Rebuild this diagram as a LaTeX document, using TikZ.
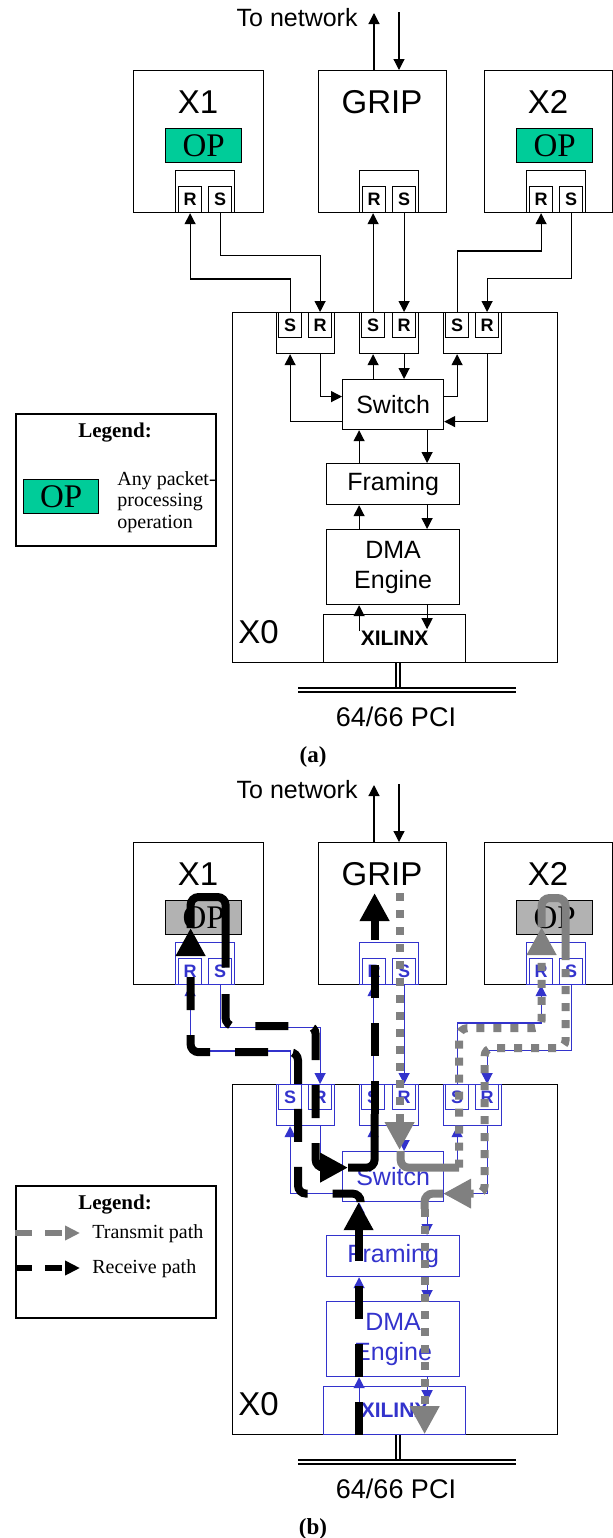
\documentclass[tikz,border=0pt]{standalone}
\usepackage{fontspec}
\setmainfont{Liberation Serif}
\setsansfont{Liberation Sans}
\usepackage{tikz}
\usetikzlibrary{arrows.meta,calc}
\definecolor{opgreen}{HTML}{00CC99}
\definecolor{opgrey}{HTML}{B2B2B2}
\definecolor{linkblue}{HTML}{3333CC}
\definecolor{txgrey}{HTML}{808080}
\tikzset{
  sz/.style 2 args={minimum width=#1*0.5pt, minimum height=#2*0.5pt},
  board/.style={draw, line width=0.6pt, anchor=north west, inner sep=0pt},
  unit/.style={draw=black, text=black, line width=0.6pt, anchor=north west, inner sep=0pt,
               align=center, font=\sffamily\fontsize{12.5}{15}\selectfont},
  port/.style={font=\sffamily\bfseries\fontsize{9}{10}\selectfont},
  opbox/.style={draw, line width=0.6pt, fill=opgreen, anchor=north west, inner sep=0pt,
                font=\fontsize{16.5}{18}\selectfont},
  title/.style={font=\sffamily\fontsize{16.5}{18}\selectfont, inner sep=0pt},
  lbl/.style={font=\sffamily\fontsize{12.5}{15}\selectfont, inner sep=0pt},
  link/.style={line width=0.6pt, -{Triangle[length=5.5pt, width=5.5pt]}},
  netlink/.style={link, color=black},
  bus/.style={double, line width=0.9pt, double distance=1pt},
  legbox/.style={draw, line width=0.9pt, anchor=north west, inner sep=0pt},
  legtitle/.style={font=\bfseries\fontsize{10.5}{12}\selectfont, inner sep=0pt},
  legtext/.style={font=\fontsize{10}{10.75}\selectfont, inner sep=0pt, align=left},
  caption/.style={font=\bfseries\fontsize{11.5}{13}\selectfont, inner sep=0pt},
  bighead/.style={-{Triangle[length=14pt, width=14pt]}},
  rxpath/.style={line width=4pt, black, rounded corners=4pt},
  rxdash/.style={rxpath, dash pattern=on 16.5pt off 12.5pt},
  txpath/.style={line width=4pt, txgrey, rounded corners=4pt},
  txdot/.style={txpath, dash pattern=on 4pt off 4.5pt},
  keyline/.style={line width=3pt, dash pattern=on 8.5pt off 6.5pt,
                  -{Triangle[length=7.5pt, width=7pt]}},
}

% the card set, drawn once per panel
\newcommand{\chassis}{%
  % boards on top
  \node[board, sz={130}{142}] (x1) at (133,70) {};
  \node[board, sz={128}{142}] (grip) at (318,70) {};
  \node[board, sz={128}{142}] (x2) at (484,70) {};
  \node[title, anchor=base] (x1t) at (198,113) {X1};
  \node[title, anchor=base] (gript) at (382,113) {GRIP};
  \node[title, anchor=base] (x2t) at (548,113) {X2};
  \node[opbox, sz={76}{34}] (x1op) at (165,128) {OP};
  \node[opbox, sz={76}{34}] (x2op) at (516,128) {OP};
  \node[unit, sz={59}{42}] (px1) at (175,170) {};
  \node[unit, port, sz={23}{26}] (x1r) at (178,186) {R};
  \node[unit, port, sz={23}{26}] (x1s) at (208,186) {S};
  \node[unit, sz={59}{42}] (pg) at (359,170) {};
  \node[unit, port, sz={23}{26}] (gr) at (362,186) {R};
  \node[unit, port, sz={23}{26}] (gs) at (392,186) {S};
  \node[unit, sz={59}{42}] (px2) at (526,170) {};
  \node[unit, port, sz={23}{26}] (x2r) at (529,186) {R};
  \node[unit, port, sz={23}{26}] (x2s) at (559,186) {S};
  % network side
  \node[lbl, anchor=base east] (net) at (358,26) {To network};
  \coordinate (netup) at (374,13);
  \coordinate (netdn) at (399,12);
  \draw[netlink] (netup |- grip.north) -- (netup);
  \draw[netlink] (netdn) -- (netdn |- grip.north);
  % X0 card
  \node[board, sz={325}{350}] (x0) at (232,312) {};
  \node[title, anchor=base west] (x0t) at (238,643) {X0};
  \node[unit, sz={58}{41}] (pp1) at (276,312) {};
  \node[unit, port, sz={23}{25}] (p1s) at (278,312) {S};
  \node[unit, port, sz={23}{25}] (p1r) at (308,312) {R};
  \node[unit, sz={59}{41}] (pp2) at (359,312) {};
  \node[unit, port, sz={23}{25}] (p2s) at (361,312) {S};
  \node[unit, port, sz={23}{25}] (p2r) at (392,312) {R};
  \node[unit, sz={58}{41}] (pp3) at (443,312) {};
  \node[unit, port, sz={23}{25}] (p3s) at (445,312) {S};
  \node[unit, port, sz={23}{25}] (p3r) at (475,312) {R};
  \node[unit, sz={101}{50}] (sw) at (342,379) {Switch};
  \node[unit, sz={133}{41}] (fr) at (326,463) {Framing};
  \node[unit, sz={133}{75}] (dma) at (326,529) {DMA\\Engine};
  \node[unit, sz={142}{48}, font=\sffamily\bfseries\fontsize{10.5}{12}\selectfont] (xil) at (323,614) {XILINX};
  % board links
  \draw[link] (p1s.north) -- ++(0,-33) -| (x1r.south);
  \draw[link] (x1s.south) -- ++(0,42) -| (p1r.north);
  \draw[link] (p2s.north) -- (p2s.north |- gr.south);
  \draw[link] (gs.south) -- (gs.south |- p2r.north);
  \draw[link] (p3s.north) -- ++(0,-61) -| (x2r.south);
  \draw[link] (x2s.south) -- ++(0,65) -| (p3r.north);
  % links inside X0
  \draw[link] ($(sw.west)+(0,17)$) -| (p1s |- pp1.south);
  \draw[link] (p1r |- pp1.south) |- ($(sw.west)+(0,-8)$);
  \draw[link] (sw.north -| p2s) -- (p2s |- pp2.south);
  \draw[link] (p2r |- pp2.south) -- (sw.north -| p2r);
  \draw[link] ($(sw.east)+(0,-8)$) -| (p3s |- pp3.south);
  \draw[link] (p3r |- pp3.south) |- ($(sw.east)+(0,17)$);
  \draw[link] ($(fr.north)+(-34,0)$) -- ($(sw.south)+(-34,0)$);
  \draw[link] ($(sw.south)+(34,0)$) -- ($(fr.north)+(34,0)$);
  \draw[link] ($(dma.north)+(-34,0)$) -- ($(fr.south)+(-34,0)$);
  \draw[link] ($(fr.south)+(34,0)$) -- ($(dma.north)+(34,0)$);
  \draw[link] ($(dma.south)+(-34,26)$) -- ($(dma.south)+(-34,0)$);
  \draw[link] ($(dma.south)+(34,0)$) -- ($(dma.south)+(34,24)$);
  % PCI bus
  \coordinate (busm) at (398,690);
  \coordinate (busl) at (298,690);
  \coordinate (busr) at (516,690);
  \draw[bus] (busm |- xil.south) -- (busm);
  \draw[bus] (busl) -- (busr);
  \node[lbl, font=\sffamily\fontsize{13.5}{15}\selectfont, anchor=base] (pci) at (396,726) {64/66 PCI};
}

\begin{document}
\begin{tikzpicture}[x=0.5pt, y=-0.5pt]
\useasboundingbox (0,0) rectangle (613,1538);

% (a) plain card set
\begin{scope}[name prefix=a-]
  \chassis
  \node[legbox, sz={200}{132}] (leg) at (15,413) {};
  \node[legtitle, anchor=base] (legt) at (115,437) {Legend:};
  \node[opbox, sz={75}{34}] (legop) at (23,479) {OP};
  \node[legtext, anchor=base west] (legtx) at (117,528) {Any packet-\\processing\\operation};
  \node[caption, anchor=base] (cap) at (313,762) {(a)};
\end{scope}

% (b) with transmit and receive paths
\begin{scope}[shift={(0,772)}, name prefix=b-,
  unit/.append style={draw=linkblue, text=linkblue},
  link/.append style={color=linkblue},
  opbox/.append style={fill=opgrey}]
  \chassis
  % receive path
  \draw[rxdash, bighead] ($(xil.south)+(-36,0)$) -- ($(sw.south)+(-34.5,0)$);
  \draw[rxdash, bighead] ($(sw.south)+(-32.5,0)$) |- ($(sw.west)+(-44,17)$)
       |- ($(x1r.south)+(0.5,67)$) -- ($(x1r.north)+(0.5,-30)$);
  \draw[rxpath] ($(x1r.north)+(0.5,-30)$) |- ($(x1op.north)+(22,-3)$) -- ($(x1s.center)+(5.5,-4)$);
  \draw[rxdash, bighead] ($(x1s.south)+(5.5,9)$) |- ($(p1r.north)+(-4.5,-58)$) |- ($(sw.west)+(6,-9)$);
  \draw[rxpath] ($(sw.west)+(6,-9)$) -| ($(p2s.south)+(1.5,4)$);
  \draw[rxdash, bighead] ($(p2s.south)+(1.5,4)$) -- ($(gr.north)+(0.5,-65)$);
  % transmit path
  \draw[txdot, bighead] ($(gs.north)+(-4.5,-65)$) -- ($(sw.north)+(6.5,-1)$);
  \draw[txpath] ($(sw.north)+(7.5,0)$) |- ($(sw.east)+(15,-9)$);
  \draw[txdot, bighead] ($(sw.east)+(15,-9)$) |- ($(x2r.south)+(0.5,43)$) -- ($(x2r.north)+(0.5,-31)$);
  \draw[txpath] ($(x2r.north)+(0.5,-31)$) |- ($(x2op.north)+(11,-2)$) -- ($(x2s.north)+(-5.5,-6)$);
  \draw[txdot, bighead] ($(x2s.north)+(-5.5,-6)$) |- ($(p3r.north)+(-2.5,-36)$) |- ($(sw.east)+(-1,17)$);
  \draw[txpath] ($(sw.east)+(-1,17)$) -| ($(sw.south)+(31.5,7)$);
  \draw[txdot, bighead] ($(sw.south)+(31.5,7)$) -- ($(xil.south)+(30,-1)$);
  % legend
  \node[legbox, sz={200}{132}] (leg) at (15,413) {};
  \node[legtitle, anchor=base] (legt) at (115,437) {Legend:};
  \node[legtext, anchor=base west] (txl) at (92,466) {Transmit path};
  \node[legtext, anchor=base west] (rxl) at (92,501) {Receive path};
  \coordinate (txs) at (15,461);
  \coordinate (rxs) at (15,496);
  \draw[keyline, txgrey] (txs) -- ([xshift=-6pt]txs -| txl.west);
  \draw[keyline, black] (rxs) -- ([xshift=-6pt]rxs -| rxl.west);
  \node[caption, anchor=base] (cap) at (313,762) {(b)};
\end{scope}
\end{tikzpicture}
\end{document}
